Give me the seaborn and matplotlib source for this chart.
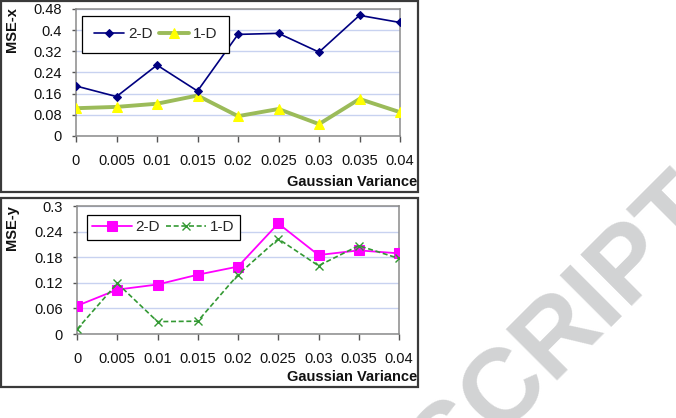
import matplotlib
matplotlib.use("Agg")
import matplotlib.pyplot as plt
import seaborn as sns
import pandas as pd
from matplotlib.patches import Rectangle

# ---- data ----
variance = [0, 0.005, 0.01, 0.015, 0.02, 0.025, 0.03, 0.035, 0.04]
xtick_labels = ["0", "0.005", "0.01", "0.015", "0.02", "0.025", "0.03", "0.035", "0.04"]
msex_2d = [0.189, 0.149, 0.268, 0.170, 0.384, 0.388, 0.317, 0.456, 0.429]
msex_1d = [0.105, 0.110, 0.122, 0.153, 0.075, 0.102, 0.045, 0.140, 0.090]
msey_2d = [0.066, 0.104, 0.116, 0.139, 0.158, 0.259, 0.185, 0.196, 0.189]
msey_1d = [0.011, 0.119, 0.029, 0.030, 0.139, 0.223, 0.160, 0.207, 0.177]
yticks_x = [0, 0.08, 0.16, 0.24, 0.32, 0.4, 0.48]
ytick_labels_x = ["0", "0.08", "0.16", "0.24", "0.32", "0.4", "0.48"]
yticks_y = [0, 0.06, 0.12, 0.18, 0.24, 0.3]
ytick_labels_y = ["0", "0.06", "0.12", "0.18", "0.24", "0.3"]

sns.set_theme(style="white")
plt.rcParams['font.family'] = ['Liberation Sans', 'DejaVu Sans']

W, H = 676, 418
fig = plt.figure(figsize=(W / 100, H / 100), dpi=100)

def px_axes(left, top, right, bottom):
    ax = fig.add_axes([left / W, 1 - bottom / H, (right - left) / W, (bottom - top) / H])
    ax.set_zorder(3)
    return ax

# watermark
fig.text(566 / W, 1 - 330 / H, "SCRIPT", rotation=45, rotation_mode="anchor",
         ha="center", va="center", fontsize=76, fontweight="bold", color="#d2d3d4", zorder=0)

# chart frames
for (l, t, r, b) in [(1, 1, 418, 192), (1, 198, 418, 387)]:
    fig.patches.append(Rectangle((l / W, 1 - b / H), (r - l) / W, (b - t) / H,
                                 transform=fig.transFigure, fill=True, facecolor="white",
                                 edgecolor="#3a3a3a", linewidth=1.6, zorder=1))

def style_axes(ax, yticks, ylabels, ymax):
    ax.set_xlim(0, 0.04)
    ax.set_ylim(0, ymax)
    ax.set_xticks(variance)
    ax.set_xticklabels(xtick_labels, fontsize=10.5)
    ax.set_yticks(yticks)
    ax.set_yticklabels(ylabels, fontsize=10.5)
    ax.grid(axis="y", color="#c8d2f0", linewidth=1)
    ax.grid(axis="x", visible=False)
    ax.set_facecolor("white")
    for s in ax.spines.values():
        s.set_color("#8a8a8a")
        s.set_linewidth(1.1)
    ax.tick_params(axis="x", direction="out", length=4, width=1, color="#555555", pad=9,
                   bottom=True, labelcolor="#111111")
    ax.tick_params(axis="y", direction="out", length=3, width=1, color="#555555", pad=7,
                   left=True, labelcolor="#111111")
    ax.set_xlabel("")
    ax.set_ylabel("")
    ax.set_axisbelow(True)

# ---- top chart ----
ax1 = px_axes(76, 9, 400, 136)
df1 = pd.DataFrame({"v": variance, "a": msex_2d, "b": msex_1d})
sns.lineplot(data=df1, x="v", y="b", ax=ax1, color="#9bbb59", linewidth=2.8,
             marker="^", markersize=7, markerfacecolor="#ffff00", markeredgecolor="#ffff00",
             label="1-D", zorder=3)
sns.lineplot(data=df1, x="v", y="a", ax=ax1, color="#000080", linewidth=1.2,
             marker="D", markersize=4.5, markerfacecolor="#000080", markeredgecolor="#000080",
             label="2-D", zorder=4)
style_axes(ax1, yticks_x, ytick_labels_x, 0.48)
h, lab = ax1.get_legend_handles_labels()
leg = ax1.legend([h[1], h[0]], [lab[1], lab[0]], ncol=2, loc="upper left",
                 bbox_to_anchor=(0.02, 0.945), borderaxespad=0, fontsize=11,
                 frameon=True, fancybox=False, edgecolor="black", framealpha=1,
                 handlelength=2.0, columnspacing=0.4, handletextpad=0.25, borderpad=0.75)
leg.get_frame().set_linewidth(0.9)

fig.text(12 / W, 1 - 7 / H, "MSE-x", rotation=90, ha="center", va="top",
         fontsize=10.5, fontweight="bold", color="#111111", zorder=4)
fig.text(417 / W, 1 - 182 / H, "Gaussian Variance", ha="right", va="center",
         fontsize=10.5, fontweight="bold", color="#111111", zorder=4)

# ---- bottom chart ----
ax2 = px_axes(77, 206, 399, 334)
df2 = pd.DataFrame({"v": variance, "a": msey_2d, "b": msey_1d})
sns.lineplot(data=df2, x="v", y="a", ax=ax2, color="#ff00ff", linewidth=1.3,
             marker="s", markersize=6.5, markerfacecolor="#ff00ff", markeredgecolor="#ff00ff",
             label="2-D", zorder=3)
sns.lineplot(data=df2, x="v", y="b", ax=ax2, color="#339933", linewidth=1.2,
             dashes=(3, 1.6), marker="x", markersize=6, markeredgewidth=1,
             markeredgecolor="#339933", label="1-D", zorder=4)
style_axes(ax2, yticks_y, ytick_labels_y, 0.3)
leg2 = ax2.legend(ncol=2, loc="upper left", bbox_to_anchor=(0.03, 0.93), borderaxespad=0,
                  fontsize=11, frameon=True, fancybox=False, edgecolor="black", framealpha=1,
                  handlelength=2.6, columnspacing=0.4, handletextpad=0.25, borderpad=0.35)
leg2.get_frame().set_linewidth(0.9)

fig.text(12 / W, 1 - 205 / H, "MSE-y", rotation=90, ha="center", va="top",
         fontsize=10.5, fontweight="bold", color="#111111", zorder=4)
fig.text(417 / W, 1 - 377 / H, "Gaussian Variance", ha="right", va="center",
         fontsize=10.5, fontweight="bold", color="#111111", zorder=4)

fig.savefig("out.png", dpi=100, facecolor="white")
